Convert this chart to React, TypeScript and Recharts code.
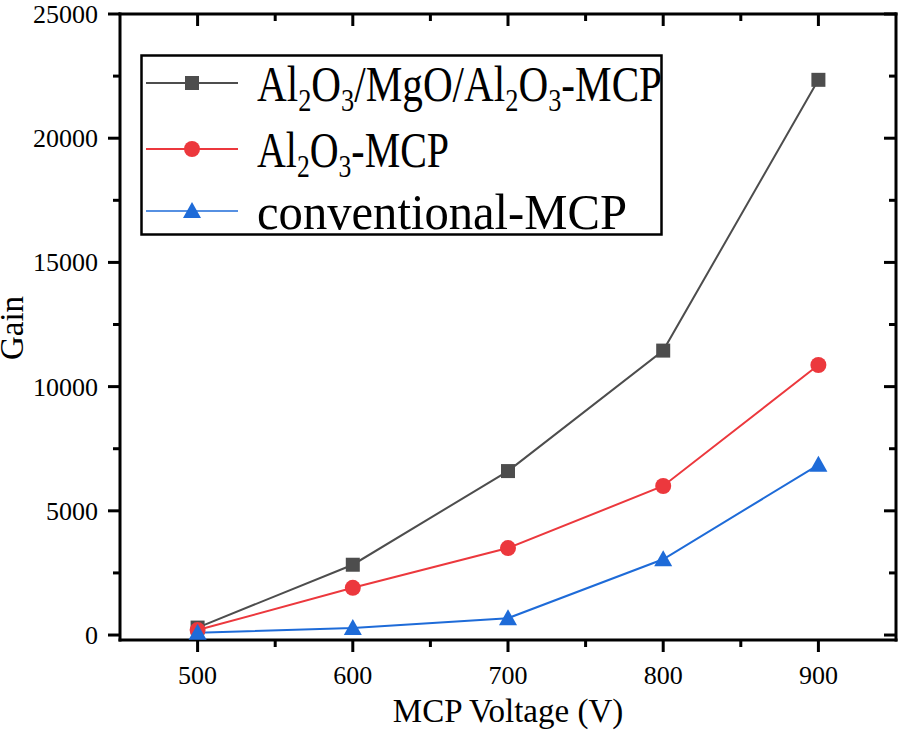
import { LineChart, Line, XAxis, YAxis, Legend } from "recharts";

// MCP voltage (V)
const voltages = [500, 600, 700, 800, 900];
// gain per MCP type
const trilayerGain = [300, 2830, 6600, 11450, 22350];
const aluminaGain = [200, 1900, 3500, 6000, 10870];
const conventionalGain = [90, 280, 680, 3050, 6850];

const seriesNames = ["Al2O3/MgO/Al2O3-MCP", "Al2O3-MCP", "conventional-MCP"];

const xMajorTicks = [500, 600, 700, 800, 900];
const xAllTicks = [500, 550, 600, 650, 700, 750, 800, 850, 900];
const yMajorTicks = [0, 5000, 10000, 15000, 20000, 25000];
const yAllTicks = [0, 2500, 5000, 7500, 10000, 12500, 15000, 17500, 20000, 22500, 25000];

const GRAY = "#4d4d4d";
const RED = "#ec383d";
const BLUE = "#1e6bd8";
const FONT = "'Liberation Serif', 'Times New Roman', serif";

const data = voltages.map((v, i) => ({
  voltage: v,
  trilayer: trilayerGain[i],
  alumina: aluminaGain[i],
  conventional: conventionalGain[i],
}));

const axisStroke = { stroke: "#000", strokeWidth: 3, strokeLinecap: "square" as const };

// tick marks drawn by hand so minor ticks can be shorter; direction per side
const makeTick = (side: "bottom" | "top" | "left" | "right", majors: number[]) => (p: any) => {
  const v = p.payload?.value;
  const major = majors.includes(v);
  const len = major ? 12 : 7;
  const { x, y } = p;
  let line;
  if (side === "bottom") line = <line x1={x} x2={x} y1={y} y2={y + len} />;
  else if (side === "top") line = <line x1={x} x2={x} y1={y} y2={y + len} />;
  else if (side === "left") line = <line x1={x} x2={x - len} y1={y} y2={y} />;
  else line = <line x1={x} x2={x - len} y1={y} y2={y} />;
  return (
    <g stroke="#000" strokeWidth={3}>
      {line}
      {major && side === "bottom" && (
        <text x={x} y={y + 44} textAnchor="middle" stroke="none" fill="#000" fontFamily={FONT} fontSize={26}>
          {v}
        </text>
      )}
      {major && side === "left" && (
        <text x={x - 22} y={y + 9} textAnchor="end" stroke="none" fill="#000" fontFamily={FONT} fontSize={26}>
          {v}
        </text>
      )}
    </g>
  );
};

const SquareDot = (p: any) => (
  <rect key={p.key ?? `sq-${p.index}`} x={p.cx - 7} y={p.cy - 7} width={14} height={14} fill={GRAY} />
);
const CircleDot = (p: any) => (
  <circle key={p.key ?? `ci-${p.index}`} cx={p.cx} cy={p.cy} r={8} fill={RED} />
);
const TriangleDot = (p: any) => (
  <polygon
    key={p.key ?? `tr-${p.index}`}
    points={`${p.cx},${p.cy - 9} ${p.cx + 9},${p.cy + 7} ${p.cx - 9},${p.cy + 7}`}
    fill={BLUE}
  />
);

// digits in the names are chemical subscripts
function ChemLabel({ name, x, y, length }: { name: string; x: number; y: number; length: number }) {
  const parts = name.split(/(\d)/).filter((s) => s !== "");
  let shifted = false;
  return (
    <text x={x} y={y} fontFamily={FONT} fontSize={50} fill="#000" textLength={length} lengthAdjust="spacingAndGlyphs">
      {parts.map((s, i) => {
        const isSub = /^\d$/.test(s);
        let dy = 0;
        if (isSub && !shifted) { dy = 10; shifted = true; }
        if (!isSub && shifted) { dy = -10; shifted = false; }
        return (
          <tspan key={i} dy={dy} fontSize={isSub ? 32 : 50}>{s}</tspan>
        );
      })}
    </text>
  );
}

function renderLegend() {
  const rows = [29, 95, 157];
  const widths = [405, 192, 370];
  const colors = [GRAY, RED, BLUE];
  return (
    <svg width={524} height={183} style={{ display: "block" }}>
      <rect x={1.5} y={1.5} width={520} height={179} fill="#fff" stroke="#000" strokeWidth={2.5} />
      {rows.map((ry, i) => (
        <g key={i}>
          <line x1={6} x2={98} y1={ry} y2={ry} stroke={colors[i]} strokeWidth={i === 2 ? 1.5 : 2} />
          {i === 0 && <rect x={45} y={ry - 7} width={14} height={14} fill={GRAY} />}
          {i === 1 && <circle cx={52} cy={ry} r={8} fill={RED} />}
          {i === 2 && <polygon points={`52,${ry - 9} 61,${ry + 7} 43,${ry + 7}`} fill={BLUE} />}
          <ChemLabel name={seriesNames[i]} x={117} y={ry + 18} length={widths[i]} />
        </g>
      ))}
    </svg>
  );
}

export default function App() {
  return (
    <div style={{ position: "absolute", left: 0, top: 0, width: 904, height: 732, background: "#fff" }}>
      <LineChart
        width={904}
        height={732}
        data={data}
        margin={{ top: 0, right: 0, bottom: 0, left: 0 }}
        style={{ fontFamily: FONT }}
      >
        <XAxis
          xAxisId="bottom"
          orientation="bottom"
          type="number"
          dataKey="voltage"
          domain={[450, 950]}
          ticks={xAllTicks}
          interval={0}
          height={92}
          axisLine={axisStroke}
          tickLine={false}
          tickSize={0}
          tickMargin={0}
          tick={makeTick("bottom", xMajorTicks)}
          allowDataOverflow
          label={{
            content: (p: any) => {
              const vb = p.viewBox ?? { x: 120, y: 640, width: 776 };
              return (
                <text x={vb.x + vb.width / 2} y={vb.y + 82} textAnchor="middle" fontFamily={FONT} fontSize={33} fill="#000">
                  MCP Voltage (V)
                </text>
              );
            },
          }}
        />
        <XAxis
          xAxisId="top"
          orientation="top"
          type="number"
          dataKey="voltage"
          domain={[450, 950]}
          ticks={xAllTicks}
          interval={0}
          height={14}
          axisLine={axisStroke}
          tickLine={false}
          tickSize={0}
          tickMargin={0}
          tick={makeTick("top", xMajorTicks)}
          allowDataOverflow
        />
        <YAxis
          yAxisId="left"
          orientation="left"
          type="number"
          domain={[-200, 25000]}
          ticks={yAllTicks}
          interval={0}
          width={120}
          axisLine={axisStroke}
          tickLine={false}
          tickSize={0}
          tickMargin={0}
          tick={makeTick("left", yMajorTicks)}
          allowDataOverflow
          label={{
            content: (p: any) => {
              const vb = p.viewBox ?? { x: 0, y: 14, height: 626 };
              const x = vb.x + 23;
              const y = vb.y + vb.height / 2 + 1;
              return (
                <text x={x} y={y} transform={`rotate(-90, ${x}, ${y})`} textAnchor="middle" fontFamily={FONT} fontSize={33} fill="#000">
                  Gain
                </text>
              );
            },
          }}
        />
        <YAxis
          yAxisId="right"
          orientation="right"
          type="number"
          domain={[-200, 25000]}
          ticks={yAllTicks}
          interval={0}
          width={8}
          axisLine={axisStroke}
          tickLine={false}
          tickSize={0}
          tickMargin={0}
          tick={makeTick("right", yMajorTicks)}
          allowDataOverflow
        />
        <Legend
          content={renderLegend}
          layout="vertical"
          align="center"
          verticalAlign="middle"
          wrapperStyle={{ left: 140, top: 54, width: 524, height: 183 }}
        />
        <Line
          xAxisId="bottom"
          yAxisId="left"
          type="linear"
          dataKey="trilayer"
          stroke={GRAY}
          strokeWidth={2}
          dot={SquareDot}
          activeDot={false}
          isAnimationActive={false}
        />
        <Line
          xAxisId="bottom"
          yAxisId="left"
          type="linear"
          dataKey="alumina"
          stroke={RED}
          strokeWidth={2}
          dot={CircleDot}
          activeDot={false}
          isAnimationActive={false}
        />
        <Line
          xAxisId="bottom"
          yAxisId="left"
          type="linear"
          dataKey="conventional"
          stroke={BLUE}
          strokeWidth={2}
          dot={TriangleDot}
          activeDot={false}
          isAnimationActive={false}
        />
      </LineChart>
    </div>
  );
}
